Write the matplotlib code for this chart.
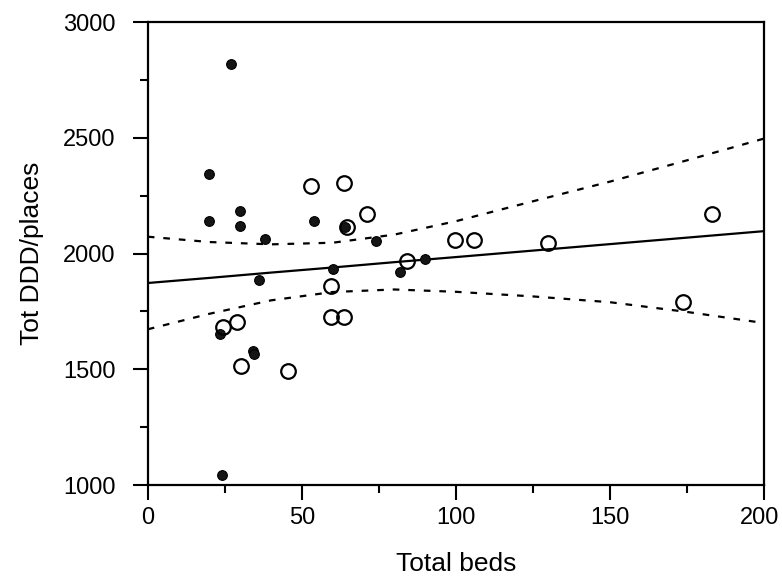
import numpy as np
import matplotlib
matplotlib.use('Agg')
import matplotlib.pyplot as plt
from matplotlib.ticker import MultipleLocator, FuncFormatter

plt.rcParams['font.family'] = ['Liberation Sans', 'DejaVu Sans']

# filled markers
filled_x = [27, 20, 20, 30, 30, 54, 38, 64, 74, 36, 60, 82, 90, 23.5, 34, 34.5, 24]
filled_y = [2820, 2343, 2140, 2185, 2119, 2140, 2064, 2113, 2054, 1886, 1932, 1920, 1975, 1652, 1578, 1565, 1043]

# open markers
open_x = [53, 63.6, 71, 64.6, 84, 59.5, 59.5, 63.7, 24.5, 28.8, 30.4, 45.4, 99.6, 106, 130, 183, 173.6]
open_y = [2292, 2303, 2169, 2114, 1969, 1858, 1724, 1724, 1681, 1704, 1515, 1494, 2058, 2058, 2047, 2169, 1792]

# regression line and confidence band
line_x = [0, 20, 40, 60, 80, 100, 125, 150, 175, 200]
fit_y = [1873, 1895, 1918, 1940, 1963, 1985, 2013, 2041, 2069, 2097]
upper_y = [2073, 2050, 2040, 2047, 2082, 2140, 2226, 2311, 2403, 2497]
lower_y = [1673, 1740, 1798, 1834, 1845, 1835, 1815, 1790, 1748, 1700]

fig = plt.figure(figsize=(7.82, 5.83), dpi=100)
ax = fig.add_axes([0.189, 0.168, 0.788, 0.794])

ax.plot(line_x, fit_y, color='black', lw=1.6, zorder=2)
ax.plot(line_x, upper_y, color='black', lw=1.6, ls=(0, (3, 4)), zorder=2)
ax.plot(line_x, lower_y, color='black', lw=1.6, ls=(0, (3, 4)), zorder=2)

ax.plot(filled_x, filled_y, ls='none', marker='o', ms=7, color='#151515',
        mec='black', mew=0.8, zorder=3)
ax.plot(open_x, open_y, ls='none', marker='o', ms=10.5, mfc='none',
        mec='black', mew=1.6, zorder=4)

ax.set_xlim(0, 200)
ax.set_ylim(1000, 3000)
ax.xaxis.set_major_locator(MultipleLocator(50))
ax.xaxis.set_minor_locator(MultipleLocator(25))
ax.yaxis.set_major_locator(MultipleLocator(500))
ax.yaxis.set_minor_locator(MultipleLocator(250))
# last x label is drawn separately, nudged left so it is not clipped
ax.xaxis.set_major_formatter(FuncFormatter(lambda v, p: '' if v >= 200 else '%d' % v))
ax.tick_params(which='major', length=11, width=1.5, labelsize=17, direction='out')
ax.tick_params(axis='x', which='major', pad=5)
ax.tick_params(axis='y', which='major', pad=12)
ax.tick_params(which='minor', length=5.5, width=1.5, direction='out')
for s in ax.spines.values():
    s.set_linewidth(1.6)

ax.annotate('200', xy=(200, 0), xycoords=('data', 'axes fraction'),
            xytext=(-3, -16), textcoords='offset points',
            ha='center', va='top', fontsize=17)

ax.set_xlabel('Total beds', fontsize=19, labelpad=16)
ax.set_ylabel('Tot DDD/places', fontsize=19, labelpad=14)

fig.savefig('out.png', dpi=100)
